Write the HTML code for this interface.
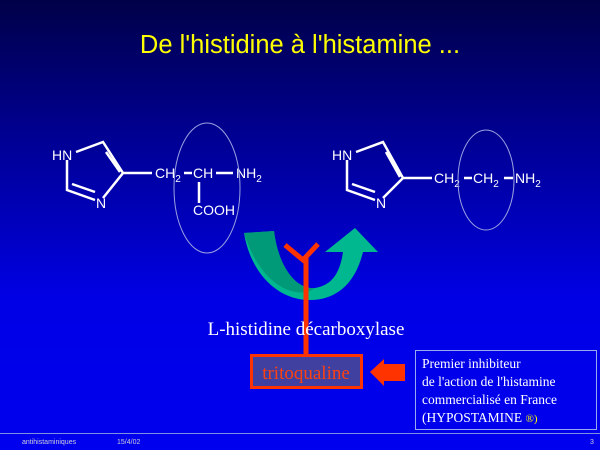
<!DOCTYPE html>
<html><head><meta charset="utf-8"><style>
html,body{margin:0;padding:0;width:600px;height:450px;overflow:hidden}
body{background:linear-gradient(#000048 0px,#00008a 120px,#0000c0 230px,#0000e6 300px,#0000ee 450px)}
</style></head><body>
<svg width="600" height="450" xmlns="http://www.w3.org/2000/svg" style="position:absolute;left:0;top:0">
<text x="300" y="53" fill="#ffff00" font-family="Liberation Sans, sans-serif" font-size="25.5" text-anchor="middle">De l'histidine à l'histamine ...</text>
<g stroke="#fff" stroke-width="2.5" fill="none">
<path d="M76,152 L103,142 L123,173 L103,198 M67,160 L67,190 L95,200 M106,152 L120,172 M72,184 L95,192 M123,173 L152,173 M184,173 L192,173 M216,173 L233,173 M199,182 L199,203"/>
<path d="M356,152 L383,142 L403,178 L383,198 M347,160 L347,190 L375,200 M386,152 L400,177 M352,184 L375,192 M403,178 L432,178 M464,178 L472,178 M504,178 L513,178"/>
</g>
<g fill="#fff" font-family="Liberation Sans, sans-serif" font-size="14">
<text x="52" y="160">HN</text><text x="96" y="208">N</text>
<text x="155" y="178">CH<tspan font-size="10" dy="4">2</tspan></text>
<text x="193" y="178">CH</text>
<text x="236" y="178">NH<tspan font-size="10" dy="4">2</tspan></text>
<text x="193" y="215">COOH</text>
<text x="332" y="160">HN</text><text x="376" y="208">N</text>
<text x="434" y="183">CH<tspan font-size="10" dy="4">2</tspan></text>
<text x="473" y="183">CH<tspan font-size="10" dy="4">2</tspan></text>
<text x="515" y="183">NH<tspan font-size="10" dy="4">2</tspan></text>
</g>
<ellipse cx="207" cy="188" rx="33" ry="65" fill="none" stroke="#9aa0e0" stroke-width="1"/>
<ellipse cx="486" cy="180" rx="28" ry="50" fill="none" stroke="#9aa0e0" stroke-width="1"/>
<path d="M244,233 L274,231 C278,265 295,290 315,288 C333,285 340,272 343,252 L325,252 L355,228 L378,252 L363,252 C355,285 335,300 310,300 C275,300 250,270 244,233 Z" fill="#00b890"/>
<path d="M244,233 L274,231 C278,265 295,290 315,288 C300,300 262,290 244,233 Z" fill="#009a78"/>
<g stroke="#ff3300" stroke-width="5" fill="none">
<path d="M306,258 L306,356 M285,245 L303,260 L318,244"/>
</g>
<text x="306" y="335" fill="#fff" font-family="Liberation Serif, serif" font-size="19" text-anchor="middle">L-histidine décarboxylase</text>
<rect x="251.5" y="355.5" width="110" height="32" fill="#4040a0" stroke="#ff3300" stroke-width="3"/>
<text x="306" y="379" fill="#ff4010" font-family="Liberation Serif, serif" font-size="19" text-anchor="middle">tritoqualine</text>
<path d="M405,364 L384,364 L384,359 L370,372 L384,386 L384,381 L405,381 Z" fill="#ff3300"/>
<rect x="415.5" y="350.5" width="181" height="79" fill="none" stroke="#9aa8f0" stroke-width="1"/>
<g fill="#fff" font-family="Liberation Serif, serif" font-size="13.5">
<text x="422" y="368">Premier inhibiteur</text>
<text x="422" y="386">de l'action de l'histamine</text>
<text x="422" y="404">commercialisé en France</text>
<text x="422" y="422">(HYPOSTAMINE <tspan fill="#ffff00" font-size="11">®)</tspan></text>
</g>
<line x1="0" y1="433.5" x2="600" y2="433.5" stroke="#8090e0" stroke-width="1"/>
<g fill="#ccd" font-family="Liberation Sans, sans-serif" font-size="7">
<text x="22" y="444">antihistaminiques</text><text x="117" y="444">15/4/02</text><text x="590" y="444">3</text>
</g>
</svg>
</body></html>
